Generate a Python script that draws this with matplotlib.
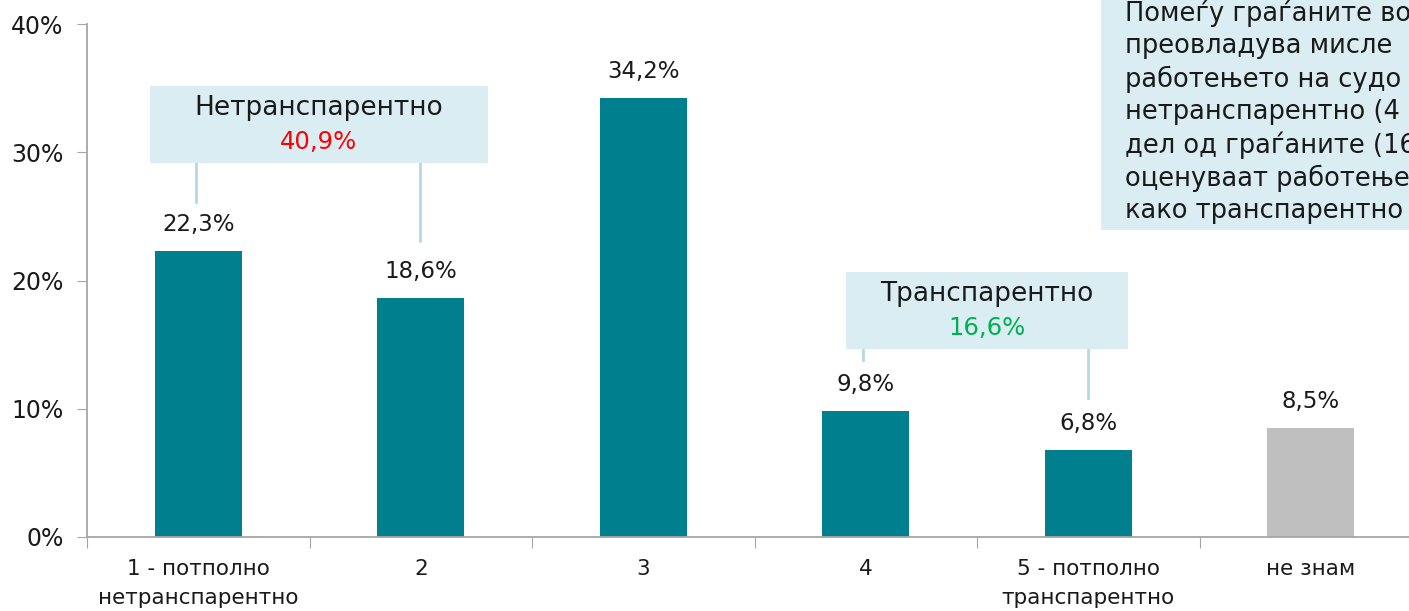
import matplotlib.pyplot as plt
from matplotlib.patches import Rectangle

categories = ['1 - потполно\nнетранспарентно', '2', '3', '4',
              '5 - потполно\nтранспарентно', 'не знам']
values = [22.3, 18.6, 34.2, 9.8, 6.8, 8.5]
labels = ['22,3%', '18,6%', '34,2%', '9,8%', '6,8%', '8,5%']
yticks = [0, 10, 20, 30, 40]

group_low = ('Нетранспарентно', '40,9%')
group_high = ('Транспарентно', '16,6%')
# the note box is cut off by the right edge of the picture
note_lines = ['Помеѓу граѓаните во', 'преовладува мисле',
              'работењето на судо', 'нетранспарентно (4',
              'дел од граѓаните (16', 'оценуваат работење',
              'како транспарентно']

teal = '#00808f'
grey = '#bfbfbf'
boxc = '#daedf3'
linec = '#b4d9e6'
axc = '#a6a6a6'

plt.rcParams['font.family'] = ['DejaVu Sans']

fig = plt.figure(figsize=(14.09, 6.11), dpi=100)
ax = fig.add_axes([87 / 1409, 74 / 611, 1335 / 1409, 513 / 611])

x = list(range(len(categories)))
colors = [teal] * 5 + [grey]
ax.bar(x, values, width=0.39, color=colors, zorder=2)

for xi, v, lab in zip(x, values, labels):
    ax.annotate(lab, (xi, v), xytext=(0, 11), textcoords='offset points',
                ha='center', va='bottom', fontsize=16.5, color='#1a1a1a')

ax.set_xlim(-0.5, 5.5)
ax.set_ylim(0, 40)
ax.set_yticks(yticks)
ax.set_yticklabels([f'{t}%' for t in yticks], fontsize=17, color='#1a1a1a')
ax.set_xticks([i + 0.5 for i in range(-1, 6)], minor=False)
ax.set_xticklabels([])
ax.set_xticks(x, minor=True)
ax.set_xticklabels(categories, minor=True, fontsize=15.5, color='#1a1a1a',
                   linespacing=1.55)
ax.tick_params(axis='x', which='minor', length=0, pad=16)
ax.tick_params(axis='x', which='major', length=8, color=axc)
ax.tick_params(axis='y', length=7, color=axc, pad=10)

for s in ['top', 'right']:
    ax.spines[s].set_visible(False)
for s in ['left', 'bottom']:
    ax.spines[s].set_color(axc)
    ax.spines[s].set_linewidth(1.3)

# bracket boxes
def group_box(x0, x1, y0, y1, title, pct, pct_color, legs):
    for lx, ly in legs:
        ax.plot([lx, lx], [ly, y0], color=linec, lw=2, zorder=1)
    ax.add_patch(Rectangle((x0, y0), x1 - x0, y1 - y0, facecolor=boxc,
                           edgecolor='none', zorder=3))
    xm = (x0 + x1) / 2
    ax.text(xm, y0 + (y1 - y0) * 0.71, title, ha='center', va='center',
            fontsize=19, color='#1a1a1a', zorder=4)
    ax.text(xm, y0 + (y1 - y0) * 0.27, pct, ha='center', va='center',
            fontsize=17.5, color=pct_color, zorder=4)

group_box(-0.217, 1.302, 29.16, 35.17, group_low[0], group_low[1], '#ff0000',
          [(-0.01, 26.1), (0.997, 23.1)])
group_box(2.911, 4.179, 14.66, 20.66, group_high[0], group_high[1], '#00b050',
          [(2.988, 13.8), (3.999, 10.84)])

# note box on the right
fig.patches.append(Rectangle((1101 / 1409, 381 / 611), 400 / 1409, 300 / 611,
                             transform=fig.transFigure, facecolor=boxc,
                             edgecolor='none', zorder=5))
for i, line in enumerate(note_lines):
    fig.text(1125 / 1409, 1 - (13 + 33 * i) / 611, line, ha='left',
             va='center', fontsize=18.5, color='#1a1a1a', zorder=6)

fig.savefig('out.png', dpi=100)
